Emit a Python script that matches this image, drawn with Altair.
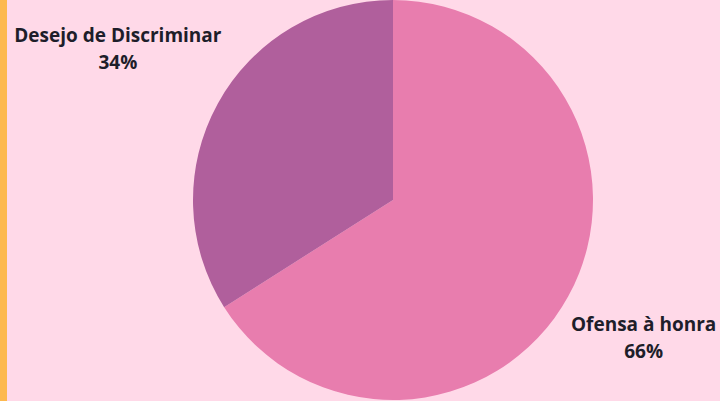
import altair as alt
import pandas as pd

categories = ["Ofensa à honra", "Desejo de Discriminar"]
values = [66, 34]
colors = ["#E87DAE", "#B05F9C"]

df = pd.DataFrame({"cat": categories, "value": values, "ord": [0, 1]})
theta_scale = alt.Scale(domain=[0, 100])

pie = alt.Chart(df).mark_arc(outerRadius=200, stroke=None).encode(
    theta=alt.Theta("value:Q", stack=True, scale=theta_scale),
    order=alt.Order("ord:Q"),
    color=alt.Color("cat:N", scale=alt.Scale(domain=categories, range=colors), legend=None),
    x=alt.value(393),
    y=alt.value(200),
)

def label(cat, radius):
    return alt.Chart(df).transform_window(
        cum="sum(value)", sort=[alt.SortField("ord")]
    ).transform_calculate(
        mid="datum.cum - datum.value / 2",
        lbl="datum.cat + '\\n' + datum.value + '%'"
    ).transform_filter(alt.datum.cat == cat).mark_text(
        radius=radius, font="Open Sans", fontWeight="bold", fontSize=19,
        lineBreak="\n", lineHeight=27, color="#1E1E2A", baseline="middle", align="center",
        dy=-13
    ).encode(
        theta=alt.Theta("mid:Q", scale=theta_scale),
        text="lbl:N",
        x=alt.value(393),
        y=alt.value(200),
    )

stripe = alt.Chart(pd.DataFrame({"a": [0]})).mark_rect(color="#FDB94E").encode(
    x=alt.value(0), x2=alt.value(7), y=alt.value(0), y2=alt.value(401)
)

chart = alt.layer(stripe, pie, label(categories[0], 286), label(categories[1], 314)).properties(
    width=720, height=401, padding=0, autosize=alt.AutoSizeParams(type="none"),
    background="#FFD9E8"
).configure_view(stroke=None)

chart.save("out.html", embed_options={"renderer": "svg", "actions": False})
